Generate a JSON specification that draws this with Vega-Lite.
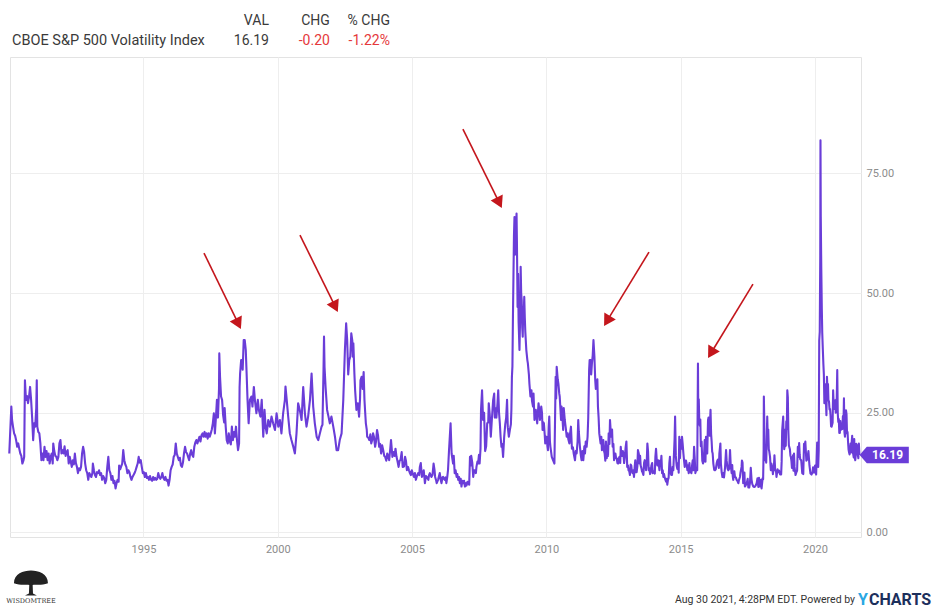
{
"$schema": "https://vega.github.io/schema/vega-lite/v6.json",
"width": 851, "height": 480,
"autosize": {"type": "none"},
"padding": {"left": 10, "top": 57, "right": 78, "bottom": 71},
"background": "white",
"config": {"view": {"stroke": "#e3e3e3", "strokeWidth": 1}, "font": "Roboto"},
"datasets": {
"vix": [
{"t":"1990-01-02","v":16.5},{"t":"1990-01-12","v":20.0},{"t":"1990-01-30","v":26.3},{"t":"1990-02-09","v":23.5},{"t":"1990-02-23","v":22.0},{"t":"1990-03-09","v":20.7},{"t":"1990-03-23","v":20.2},{"t":"1990-04-06","v":19.2},{"t":"1990-04-20","v":17.9},{"t":"1990-05-04","v":18.6},{"t":"1990-05-18","v":17.5},{"t":"1990-06-01","v":16.5},{"t":"1990-06-15","v":16.0},{"t":"1990-06-29","v":14.4},{"t":"1990-07-13","v":15.0},{"t":"1990-07-24","v":15.8},{"t":"1990-08-03","v":31.8},{"t":"1990-08-17","v":27.7},{"t":"1990-08-31","v":28.5},{"t":"1990-09-14","v":27.0},{"t":"1990-09-28","v":28.4},{"t":"1990-10-12","v":30.4},{"t":"1990-10-26","v":27.7},{"t":"1990-11-09","v":24.0},{"t":"1990-11-23","v":19.3},{"t":"1990-12-07","v":22.8},{"t":"1990-12-21","v":22.1},
{"t":"1991-01-04","v":26.0},{"t":"1991-01-11","v":31.8},{"t":"1991-01-18","v":22.1},{"t":"1991-02-01","v":21.0},{"t":"1991-02-15","v":20.7},{"t":"1991-03-01","v":18.6},{"t":"1991-03-15","v":15.1},{"t":"1991-03-29","v":16.5},{"t":"1991-04-12","v":15.1},{"t":"1991-04-26","v":17.9},{"t":"1991-05-10","v":15.8},{"t":"1991-05-24","v":17.0},{"t":"1991-06-07","v":15.1},{"t":"1991-06-21","v":16.5},{"t":"1991-07-05","v":14.4},{"t":"1991-07-19","v":15.8},{"t":"1991-08-02","v":16.5},{"t":"1991-08-16","v":14.4},{"t":"1991-08-23","v":18.6},{"t":"1991-09-06","v":17.0},{"t":"1991-09-20","v":16.0},{"t":"1991-10-04","v":15.8},{"t":"1991-10-18","v":15.1},{"t":"1991-11-01","v":15.8},{"t":"1991-11-15","v":18.6},{"t":"1991-11-29","v":19.3},{"t":"1991-12-13","v":16.5},{"t":"1991-12-27","v":17.2},
{"t":"1992-01-10","v":16.5},{"t":"1992-01-24","v":18.0},{"t":"1992-02-07","v":16.0},{"t":"1992-02-21","v":16.8},{"t":"1992-03-06","v":17.2},{"t":"1992-03-20","v":14.4},{"t":"1992-04-03","v":15.8},{"t":"1992-04-17","v":14.8},{"t":"1992-05-01","v":13.7},{"t":"1992-05-15","v":15.1},{"t":"1992-05-29","v":14.2},{"t":"1992-06-12","v":16.5},{"t":"1992-06-26","v":14.5},{"t":"1992-07-10","v":13.7},{"t":"1992-07-24","v":12.4},{"t":"1992-08-07","v":13.4},{"t":"1992-08-21","v":13.0},{"t":"1992-09-04","v":13.7},{"t":"1992-09-18","v":16.5},{"t":"1992-10-02","v":17.9},{"t":"1992-10-16","v":16.8},{"t":"1992-10-30","v":14.4},{"t":"1992-11-13","v":13.0},{"t":"1992-11-27","v":12.4},{"t":"1992-12-11","v":11.0},{"t":"1992-12-25","v":12.4},
{"t":"1993-01-08","v":12.0},{"t":"1993-01-22","v":11.6},{"t":"1993-02-05","v":12.4},{"t":"1993-02-12","v":14.4},{"t":"1993-02-26","v":13.0},{"t":"1993-03-12","v":12.0},{"t":"1993-03-26","v":11.6},{"t":"1993-04-09","v":12.6},{"t":"1993-04-23","v":12.4},{"t":"1993-05-07","v":13.0},{"t":"1993-05-21","v":12.0},{"t":"1993-06-04","v":12.4},{"t":"1993-06-18","v":11.0},{"t":"1993-07-02","v":11.8},{"t":"1993-07-16","v":11.4},{"t":"1993-07-30","v":10.3},{"t":"1993-08-13","v":11.0},{"t":"1993-08-27","v":13.7},{"t":"1993-09-10","v":15.8},{"t":"1993-09-24","v":13.0},{"t":"1993-10-08","v":12.4},{"t":"1993-10-22","v":11.0},{"t":"1993-11-05","v":11.8},{"t":"1993-11-19","v":10.3},{"t":"1993-12-03","v":10.8},{"t":"1993-12-17","v":9.2},{"t":"1993-12-31","v":10.3},
{"t":"1994-01-14","v":11.0},{"t":"1994-01-28","v":10.6},{"t":"1994-02-04","v":14.0},{"t":"1994-02-18","v":13.2},{"t":"1994-03-04","v":13.8},{"t":"1994-03-18","v":14.4},{"t":"1994-04-01","v":17.2},{"t":"1994-04-15","v":15.1},{"t":"1994-04-29","v":14.2},{"t":"1994-05-13","v":13.7},{"t":"1994-05-27","v":12.4},{"t":"1994-06-10","v":13.0},{"t":"1994-06-24","v":12.6},{"t":"1994-07-08","v":11.6},{"t":"1994-07-22","v":11.0},{"t":"1994-08-05","v":11.6},{"t":"1994-08-19","v":12.0},{"t":"1994-09-02","v":12.4},{"t":"1994-09-16","v":13.0},{"t":"1994-09-30","v":13.7},{"t":"1994-10-14","v":14.4},{"t":"1994-10-28","v":15.8},{"t":"1994-11-11","v":14.6},{"t":"1994-11-25","v":15.1},{"t":"1994-12-09","v":13.7},{"t":"1994-12-23","v":12.4},
{"t":"1995-01-06","v":12.6},{"t":"1995-01-20","v":11.6},{"t":"1995-02-03","v":12.4},{"t":"1995-02-17","v":11.4},{"t":"1995-03-03","v":11.6},{"t":"1995-03-17","v":11.0},{"t":"1995-03-31","v":11.8},{"t":"1995-04-14","v":11.0},{"t":"1995-04-28","v":10.8},{"t":"1995-05-12","v":11.6},{"t":"1995-05-26","v":11.0},{"t":"1995-06-09","v":11.4},{"t":"1995-06-23","v":11.0},{"t":"1995-07-07","v":11.2},{"t":"1995-07-21","v":12.4},{"t":"1995-08-04","v":11.6},{"t":"1995-08-18","v":11.2},{"t":"1995-09-01","v":11.6},{"t":"1995-09-15","v":12.4},{"t":"1995-09-29","v":11.4},{"t":"1995-10-13","v":11.0},{"t":"1995-10-27","v":11.6},{"t":"1995-11-10","v":10.8},{"t":"1995-11-24","v":11.0},{"t":"1995-12-08","v":9.8},{"t":"1995-12-22","v":11.0},
{"t":"1996-01-05","v":13.0},{"t":"1996-01-19","v":13.7},{"t":"1996-02-02","v":14.2},{"t":"1996-02-16","v":15.8},{"t":"1996-03-01","v":16.2},{"t":"1996-03-15","v":18.6},{"t":"1996-03-29","v":16.5},{"t":"1996-04-12","v":15.8},{"t":"1996-04-26","v":15.1},{"t":"1996-05-10","v":15.6},{"t":"1996-05-24","v":14.0},{"t":"1996-06-07","v":13.7},{"t":"1996-06-21","v":14.6},{"t":"1996-07-05","v":16.5},{"t":"1996-07-19","v":17.9},{"t":"1996-08-02","v":16.8},{"t":"1996-08-16","v":16.5},{"t":"1996-08-30","v":15.8},{"t":"1996-09-13","v":15.1},{"t":"1996-09-27","v":16.5},{"t":"1996-10-11","v":17.2},{"t":"1996-10-25","v":16.2},{"t":"1996-11-08","v":15.8},{"t":"1996-11-22","v":17.9},{"t":"1996-12-06","v":18.8},{"t":"1996-12-20","v":19.3},
{"t":"1997-01-03","v":18.6},{"t":"1997-01-17","v":19.3},{"t":"1997-01-31","v":20.0},{"t":"1997-02-14","v":19.0},{"t":"1997-02-28","v":20.3},{"t":"1997-03-14","v":20.7},{"t":"1997-03-28","v":20.0},{"t":"1997-04-11","v":21.0},{"t":"1997-04-25","v":20.0},{"t":"1997-05-09","v":20.7},{"t":"1997-05-23","v":19.6},{"t":"1997-06-06","v":20.7},{"t":"1997-06-20","v":20.0},{"t":"1997-07-04","v":20.7},{"t":"1997-07-18","v":21.5},{"t":"1997-08-01","v":22.8},{"t":"1997-08-15","v":24.9},{"t":"1997-08-29","v":20.7},{"t":"1997-09-12","v":24.0},{"t":"1997-09-26","v":27.7},{"t":"1997-10-10","v":24.0},{"t":"1997-10-24","v":30.0},{"t":"1997-10-28","v":37.4},{"t":"1997-11-07","v":32.5},{"t":"1997-11-21","v":28.4},{"t":"1997-12-05","v":27.7},{"t":"1997-12-19","v":24.5},
{"t":"1998-01-02","v":23.0},{"t":"1998-01-09","v":26.0},{"t":"1998-01-23","v":22.1},{"t":"1998-02-06","v":19.3},{"t":"1998-02-20","v":18.6},{"t":"1998-03-06","v":20.7},{"t":"1998-03-20","v":19.0},{"t":"1998-04-03","v":18.4},{"t":"1998-04-17","v":22.1},{"t":"1998-05-01","v":19.3},{"t":"1998-05-15","v":21.0},{"t":"1998-05-29","v":20.0},{"t":"1998-06-12","v":22.1},{"t":"1998-06-26","v":19.2},{"t":"1998-07-10","v":17.2},{"t":"1998-07-24","v":18.6},{"t":"1998-07-31","v":30.4},{"t":"1998-08-07","v":33.2},{"t":"1998-08-21","v":36.0},{"t":"1998-09-04","v":36.0},{"t":"1998-09-11","v":34.0},{"t":"1998-09-25","v":40.2},{"t":"1998-10-09","v":40.2},{"t":"1998-10-23","v":38.1},{"t":"1998-11-02","v":33.9},{"t":"1998-11-16","v":27.7},{"t":"1998-12-01","v":22.8},{"t":"1998-12-18","v":27.7},
{"t":"1999-01-08","v":28.4},{"t":"1999-01-22","v":26.3},{"t":"1999-02-10","v":30.4},{"t":"1999-02-24","v":27.7},{"t":"1999-03-17","v":24.9},{"t":"1999-04-05","v":27.7},{"t":"1999-04-19","v":25.6},{"t":"1999-05-10","v":24.2},{"t":"1999-05-28","v":27.7},{"t":"1999-06-18","v":20.0},{"t":"1999-07-05","v":25.6},{"t":"1999-07-20","v":22.0},{"t":"1999-08-04","v":20.7},{"t":"1999-08-25","v":23.5},{"t":"1999-09-16","v":22.1},{"t":"1999-10-08","v":24.2},{"t":"1999-10-30","v":22.8},{"t":"1999-11-24","v":21.4},{"t":"1999-12-16","v":24.9},
{"t":"2000-01-08","v":22.1},{"t":"2000-01-30","v":23.5},{"t":"2000-02-20","v":20.7},{"t":"2000-03-14","v":24.9},{"t":"2000-04-07","v":27.7},{"t":"2000-04-15","v":30.5},{"t":"2000-04-30","v":28.0},{"t":"2000-05-22","v":24.2},{"t":"2000-06-13","v":20.7},{"t":"2000-07-05","v":19.3},{"t":"2000-07-30","v":17.9},{"t":"2000-08-21","v":16.5},{"t":"2000-09-12","v":20.7},{"t":"2000-10-04","v":27.0},{"t":"2000-10-26","v":25.6},{"t":"2000-11-20","v":23.5},{"t":"2000-12-12","v":30.4},
{"t":"2001-01-04","v":24.9},{"t":"2001-01-26","v":22.1},{"t":"2001-02-17","v":24.2},{"t":"2001-03-14","v":27.7},{"t":"2001-04-05","v":33.2},{"t":"2001-04-27","v":26.3},{"t":"2001-05-19","v":22.8},{"t":"2001-06-13","v":20.0},{"t":"2001-07-05","v":19.3},{"t":"2001-07-27","v":20.7},{"t":"2001-08-18","v":22.1},{"t":"2001-08-31","v":22.5},{"t":"2001-09-14","v":33.9},{"t":"2001-09-21","v":40.9},{"t":"2001-09-28","v":34.6},{"t":"2001-10-12","v":30.4},{"t":"2001-11-02","v":25.6},{"t":"2001-11-21","v":24.2},{"t":"2001-12-09","v":22.8},{"t":"2001-12-31","v":24.2},
{"t":"2002-01-25","v":22.1},{"t":"2002-02-17","v":20.0},{"t":"2002-03-11","v":17.2},{"t":"2002-04-01","v":17.2},{"t":"2002-04-23","v":19.3},{"t":"2002-05-18","v":20.7},{"t":"2002-06-10","v":27.7},{"t":"2002-07-02","v":38.1},{"t":"2002-07-19","v":43.7},{"t":"2002-08-02","v":40.2},{"t":"2002-08-16","v":33.0},{"t":"2002-08-30","v":36.0},{"t":"2002-09-13","v":36.7},{"t":"2002-09-27","v":41.6},{"t":"2002-10-11","v":40.0},{"t":"2002-10-18","v":36.7},{"t":"2002-10-25","v":39.5},{"t":"2002-11-08","v":33.2},{"t":"2002-11-18","v":29.7},{"t":"2002-12-06","v":25.6},{"t":"2002-12-24","v":27.0},
{"t":"2003-01-11","v":24.2},{"t":"2003-01-24","v":28.0},{"t":"2003-01-30","v":31.8},{"t":"2003-02-14","v":32.5},{"t":"2003-02-28","v":30.0},{"t":"2003-03-07","v":31.8},{"t":"2003-03-14","v":33.5},{"t":"2003-03-25","v":27.7},{"t":"2003-04-04","v":25.0},{"t":"2003-04-13","v":22.8},{"t":"2003-04-25","v":21.5},{"t":"2003-05-01","v":20.0},{"t":"2003-05-16","v":19.8},{"t":"2003-05-30","v":19.3},{"t":"2003-06-13","v":20.5},{"t":"2003-06-25","v":18.6},{"t":"2003-07-11","v":19.5},{"t":"2003-07-20","v":20.7},{"t":"2003-08-01","v":20.0},{"t":"2003-08-17","v":17.9},{"t":"2003-08-29","v":19.0},{"t":"2003-09-12","v":21.4},{"t":"2003-09-26","v":20.2},{"t":"2003-10-11","v":17.9},{"t":"2003-10-24","v":18.5},{"t":"2003-11-06","v":16.5},{"t":"2003-11-21","v":18.2},{"t":"2003-12-05","v":17.2},{"t":"2003-12-19","v":16.0},
{"t":"2004-01-01","v":15.8},{"t":"2004-01-16","v":15.0},{"t":"2004-01-29","v":16.5},{"t":"2004-02-12","v":15.8},{"t":"2004-02-24","v":15.1},{"t":"2004-03-10","v":17.5},{"t":"2004-03-20","v":19.3},{"t":"2004-04-08","v":15.8},{"t":"2004-04-22","v":16.8},{"t":"2004-05-08","v":16.0},{"t":"2004-05-20","v":17.5},{"t":"2004-06-03","v":15.8},{"t":"2004-06-17","v":14.8},{"t":"2004-07-01","v":13.7},{"t":"2004-07-15","v":15.0},{"t":"2004-07-27","v":15.1},{"t":"2004-08-12","v":16.8},{"t":"2004-08-26","v":13.7},{"t":"2004-09-13","v":13.8},{"t":"2004-09-27","v":15.8},{"t":"2004-10-09","v":15.0},{"t":"2004-10-22","v":13.0},{"t":"2004-11-06","v":13.7},{"t":"2004-11-19","v":13.0},{"t":"2004-12-02","v":12.4},{"t":"2004-12-15","v":12.0},{"t":"2004-12-28","v":13.0},
{"t":"2005-01-12","v":12.2},{"t":"2005-01-26","v":11.6},{"t":"2005-02-08","v":12.4},{"t":"2005-02-21","v":11.0},{"t":"2005-03-08","v":11.8},{"t":"2005-03-24","v":12.4},{"t":"2005-04-08","v":12.0},{"t":"2005-04-16","v":13.7},{"t":"2005-04-29","v":14.5},{"t":"2005-05-14","v":11.6},{"t":"2005-05-27","v":12.2},{"t":"2005-06-08","v":13.0},{"t":"2005-06-24","v":10.3},{"t":"2005-07-08","v":11.8},{"t":"2005-07-20","v":11.6},{"t":"2005-08-10","v":11.0},{"t":"2005-08-19","v":12.0},{"t":"2005-08-30","v":12.4},{"t":"2005-09-20","v":11.6},{"t":"2005-10-05","v":12.0},{"t":"2005-10-20","v":14.4},{"t":"2005-11-02","v":13.0},{"t":"2005-11-10","v":11.6},{"t":"2005-11-25","v":10.8},{"t":"2005-12-01","v":10.3},{"t":"2005-12-20","v":11.0},
{"t":"2006-01-12","v":12.4},{"t":"2006-01-25","v":11.0},{"t":"2006-02-05","v":10.3},{"t":"2006-02-17","v":11.5},{"t":"2006-02-27","v":11.6},{"t":"2006-03-10","v":11.2},{"t":"2006-03-20","v":11.0},{"t":"2006-04-01","v":11.5},{"t":"2006-04-12","v":10.3},{"t":"2006-04-24","v":11.6},{"t":"2006-05-04","v":13.0},{"t":"2006-05-18","v":17.2},{"t":"2006-06-08","v":22.8},{"t":"2006-06-22","v":16.5},{"t":"2006-07-12","v":14.4},{"t":"2006-07-21","v":16.0},{"t":"2006-08-03","v":12.4},{"t":"2006-08-15","v":13.0},{"t":"2006-08-29","v":11.6},{"t":"2006-09-08","v":12.2},{"t":"2006-09-20","v":11.0},{"t":"2006-10-01","v":11.6},{"t":"2006-10-12","v":10.3},{"t":"2006-10-24","v":11.2},{"t":"2006-11-03","v":9.6},{"t":"2006-11-15","v":10.8},{"t":"2006-11-24","v":10.3},{"t":"2006-12-08","v":10.8},{"t":"2006-12-20","v":9.6},
{"t":"2007-01-05","v":10.3},{"t":"2007-01-11","v":9.8},{"t":"2007-01-24","v":10.6},{"t":"2007-02-02","v":10.3},{"t":"2007-02-16","v":10.0},{"t":"2007-02-27","v":15.8},{"t":"2007-03-09","v":14.0},{"t":"2007-03-16","v":16.0},{"t":"2007-03-30","v":14.6},{"t":"2007-04-12","v":11.6},{"t":"2007-04-24","v":13.0},{"t":"2007-05-05","v":13.0},{"t":"2007-05-18","v":12.4},{"t":"2007-05-26","v":13.7},{"t":"2007-06-08","v":14.8},{"t":"2007-06-17","v":14.4},{"t":"2007-06-29","v":16.2},{"t":"2007-07-08","v":14.4},{"t":"2007-07-20","v":17.5},{"t":"2007-07-27","v":25.6},{"t":"2007-08-10","v":29.7},{"t":"2007-08-24","v":23.5},{"t":"2007-09-07","v":25.0},{"t":"2007-09-21","v":17.0},{"t":"2007-10-05","v":18.0},{"t":"2007-10-19","v":22.8},{"t":"2007-11-02","v":23.0},{"t":"2007-11-09","v":27.0},{"t":"2007-11-23","v":24.5},{"t":"2007-12-07","v":20.0},{"t":"2007-12-21","v":23.5},
{"t":"2008-01-08","v":27.7},{"t":"2008-01-22","v":29.0},{"t":"2008-01-30","v":24.0},{"t":"2008-02-08","v":26.0},{"t":"2008-02-21","v":24.0},{"t":"2008-03-07","v":27.0},{"t":"2008-03-17","v":29.7},{"t":"2008-03-28","v":25.0},{"t":"2008-04-08","v":22.8},{"t":"2008-04-18","v":20.0},{"t":"2008-04-30","v":17.9},{"t":"2008-05-09","v":18.5},{"t":"2008-05-22","v":15.8},{"t":"2008-06-06","v":20.0},{"t":"2008-06-20","v":22.5},{"t":"2008-07-03","v":24.0},{"t":"2008-07-15","v":27.7},{"t":"2008-07-25","v":22.0},{"t":"2008-08-08","v":20.0},{"t":"2008-08-22","v":21.4},{"t":"2008-09-05","v":22.6},{"t":"2008-09-12","v":25.7},{"t":"2008-09-19","v":32.5},{"t":"2008-09-26","v":34.7},{"t":"2008-10-03","v":45.0},{"t":"2008-10-10","v":53.4},{"t":"2008-10-17","v":62.0},{"t":"2008-10-24","v":65.9},{"t":"2008-10-31","v":58.0},{"t":"2008-11-07","v":60.0},{"t":"2008-11-14","v":63.5},{"t":"2008-11-21","v":66.6},{"t":"2008-11-26","v":61.0},{"t":"2008-12-05","v":47.1},{"t":"2008-12-12","v":54.0},{"t":"2008-12-19","v":44.0},{"t":"2008-12-31","v":38.1},
{"t":"2009-01-09","v":45.0},{"t":"2009-01-16","v":55.5},{"t":"2009-01-23","v":50.0},{"t":"2009-01-30","v":48.5},{"t":"2009-02-06","v":43.0},{"t":"2009-02-13","v":40.9},{"t":"2009-02-20","v":47.0},{"t":"2009-02-27","v":46.0},{"t":"2009-03-06","v":49.2},{"t":"2009-03-13","v":45.0},{"t":"2009-03-20","v":42.0},{"t":"2009-04-03","v":38.1},{"t":"2009-04-17","v":36.0},{"t":"2009-04-24","v":35.3},{"t":"2009-05-08","v":33.0},{"t":"2009-05-15","v":31.1},{"t":"2009-05-29","v":28.4},{"t":"2009-06-12","v":29.7},{"t":"2009-06-19","v":27.5},{"t":"2009-07-03","v":26.3},{"t":"2009-07-10","v":29.0},{"t":"2009-07-23","v":23.5},{"t":"2009-08-10","v":25.6},{"t":"2009-08-20","v":24.0},{"t":"2009-08-29","v":22.8},{"t":"2009-09-16","v":27.0},{"t":"2009-09-30","v":25.0},{"t":"2009-10-05","v":23.5},{"t":"2009-10-23","v":26.3},{"t":"2009-11-02","v":25.0},{"t":"2009-11-10","v":21.4},{"t":"2009-11-20","v":23.0},{"t":"2009-11-28","v":22.8},{"t":"2009-12-09","v":20.5},{"t":"2009-12-16","v":18.6},{"t":"2009-12-25","v":20.0},
{"t":"2010-01-04","v":20.0},{"t":"2010-01-15","v":18.0},{"t":"2010-01-22","v":17.2},{"t":"2010-02-01","v":22.0},{"t":"2010-02-09","v":24.2},{"t":"2010-02-18","v":19.0},{"t":"2010-02-25","v":17.9},{"t":"2010-03-15","v":15.8},{"t":"2010-04-01","v":15.1},{"t":"2010-04-20","v":14.4},{"t":"2010-05-07","v":32.5},{"t":"2010-05-14","v":28.0},{"t":"2010-05-21","v":34.6},{"t":"2010-06-04","v":32.0},{"t":"2010-06-13","v":31.1},{"t":"2010-06-25","v":29.0},{"t":"2010-07-01","v":28.4},{"t":"2010-07-10","v":26.0},{"t":"2010-07-19","v":23.5},{"t":"2010-07-26","v":26.3},{"t":"2010-08-07","v":24.0},{"t":"2010-08-17","v":21.4},{"t":"2010-08-25","v":26.0},{"t":"2010-09-08","v":23.5},{"t":"2010-09-20","v":22.0},{"t":"2010-10-04","v":20.0},{"t":"2010-10-18","v":20.7},{"t":"2010-10-26","v":19.5},{"t":"2010-11-10","v":18.6},{"t":"2010-11-17","v":20.5},{"t":"2010-12-01","v":22.1},{"t":"2010-12-14","v":17.5},{"t":"2010-12-28","v":17.8},
{"t":"2011-01-07","v":16.5},{"t":"2011-01-25","v":15.1},{"t":"2011-02-04","v":17.0},{"t":"2011-02-16","v":16.5},{"t":"2011-03-01","v":19.0},{"t":"2011-03-10","v":23.5},{"t":"2011-03-18","v":21.0},{"t":"2011-04-02","v":17.9},{"t":"2011-04-15","v":16.0},{"t":"2011-04-24","v":15.1},{"t":"2011-05-06","v":17.0},{"t":"2011-05-18","v":15.1},{"t":"2011-06-01","v":18.0},{"t":"2011-06-10","v":16.5},{"t":"2011-06-20","v":19.0},{"t":"2011-07-02","v":17.9},{"t":"2011-07-15","v":20.0},{"t":"2011-07-24","v":24.0},{"t":"2011-08-05","v":33.9},{"t":"2011-08-12","v":36.0},{"t":"2011-08-25","v":36.0},{"t":"2011-09-02","v":33.0},{"t":"2011-09-12","v":35.3},{"t":"2011-09-23","v":37.0},{"t":"2011-10-03","v":40.2},{"t":"2011-10-16","v":36.7},{"t":"2011-10-27","v":31.8},{"t":"2011-11-04","v":30.0},{"t":"2011-11-14","v":30.4},{"t":"2011-11-25","v":32.0},{"t":"2011-12-03","v":26.3},{"t":"2011-12-12","v":24.0},{"t":"2011-12-21","v":20.7},
{"t":"2012-01-08","v":18.6},{"t":"2012-01-18","v":20.0},{"t":"2012-01-26","v":17.2},{"t":"2012-02-06","v":18.5},{"t":"2012-02-14","v":19.3},{"t":"2012-02-24","v":17.0},{"t":"2012-03-03","v":16.5},{"t":"2012-03-12","v":15.0},{"t":"2012-03-21","v":19.0},{"t":"2012-04-01","v":15.5},{"t":"2012-04-08","v":17.9},{"t":"2012-04-18","v":16.0},{"t":"2012-04-27","v":20.7},{"t":"2012-05-07","v":18.5},{"t":"2012-05-15","v":23.5},{"t":"2012-05-25","v":21.0},{"t":"2012-06-02","v":20.0},{"t":"2012-06-12","v":21.5},{"t":"2012-06-20","v":17.9},{"t":"2012-06-30","v":18.5},{"t":"2012-07-09","v":15.1},{"t":"2012-07-18","v":16.5},{"t":"2012-07-27","v":16.5},{"t":"2012-08-06","v":15.5},{"t":"2012-08-14","v":15.5},{"t":"2012-08-24","v":14.5},{"t":"2012-09-01","v":14.4},{"t":"2012-09-12","v":15.5},{"t":"2012-09-20","v":15.8},{"t":"2012-10-01","v":14.5},{"t":"2012-10-08","v":17.9},{"t":"2012-10-18","v":16.0},{"t":"2012-10-26","v":16.0},{"t":"2012-11-05","v":17.0},{"t":"2012-11-13","v":16.5},{"t":"2012-11-23","v":14.5},{"t":"2012-12-01","v":15.5},{"t":"2012-12-14","v":17.9},{"t":"2012-12-24","v":19.0},
{"t":"2013-01-04","v":13.7},{"t":"2013-01-14","v":14.0},{"t":"2013-01-22","v":13.0},{"t":"2013-02-01","v":12.8},{"t":"2013-02-10","v":12.0},{"t":"2013-02-20","v":14.2},{"t":"2013-02-28","v":14.0},{"t":"2013-03-08","v":12.8},{"t":"2013-03-18","v":12.4},{"t":"2013-03-28","v":13.0},{"t":"2013-04-06","v":11.6},{"t":"2013-04-16","v":13.8},{"t":"2013-04-24","v":15.1},{"t":"2013-05-03","v":12.6},{"t":"2013-05-12","v":12.6},{"t":"2013-05-22","v":13.8},{"t":"2013-05-30","v":17.2},{"t":"2013-06-10","v":16.5},{"t":"2013-06-18","v":14.4},{"t":"2013-06-28","v":16.0},{"t":"2013-07-06","v":14.0},{"t":"2013-07-15","v":13.5},{"t":"2013-07-24","v":12.8},{"t":"2013-08-02","v":12.5},{"t":"2013-08-12","v":12.0},{"t":"2013-08-21","v":14.5},{"t":"2013-08-30","v":15.1},{"t":"2013-09-08","v":14.5},{"t":"2013-09-17","v":13.0},{"t":"2013-09-27","v":15.0},{"t":"2013-10-05","v":18.6},{"t":"2013-10-14","v":17.0},{"t":"2013-10-23","v":13.0},{"t":"2013-11-01","v":13.4},{"t":"2013-11-11","v":12.2},{"t":"2013-11-20","v":12.8},{"t":"2013-11-29","v":14.0},{"t":"2013-12-09","v":14.5},{"t":"2013-12-17","v":12.4},{"t":"2013-12-27","v":12.6},
{"t":"2014-01-04","v":12.8},{"t":"2014-01-14","v":12.3},{"t":"2014-01-22","v":15.8},{"t":"2014-01-31","v":17.5},{"t":"2014-02-10","v":15.0},{"t":"2014-02-18","v":14.0},{"t":"2014-02-28","v":15.1},{"t":"2014-03-09","v":14.2},{"t":"2014-03-18","v":13.0},{"t":"2014-03-28","v":15.0},{"t":"2014-04-05","v":14.0},{"t":"2014-04-14","v":16.0},{"t":"2014-04-23","v":12.4},{"t":"2014-05-02","v":13.0},{"t":"2014-05-11","v":11.6},{"t":"2014-05-20","v":12.2},{"t":"2014-05-30","v":11.4},{"t":"2014-06-08","v":11.0},{"t":"2014-06-17","v":10.6},{"t":"2014-06-26","v":11.2},{"t":"2014-07-03","v":10.0},{"t":"2014-07-12","v":11.0},{"t":"2014-07-21","v":11.4},{"t":"2014-07-31","v":14.5},{"t":"2014-08-08","v":15.8},{"t":"2014-08-17","v":12.5},{"t":"2014-08-26","v":12.0},{"t":"2014-09-05","v":12.0},{"t":"2014-09-14","v":13.7},{"t":"2014-09-23","v":13.0},{"t":"2014-10-02","v":16.5},{"t":"2014-10-10","v":19.5},{"t":"2014-10-17","v":24.2},{"t":"2014-10-27","v":16.0},{"t":"2014-11-07","v":14.0},{"t":"2014-11-16","v":13.3},{"t":"2014-11-25","v":14.5},{"t":"2014-12-05","v":12.5},{"t":"2014-12-13","v":20.0},{"t":"2014-12-22","v":15.5},
{"t":"2015-01-01","v":19.3},{"t":"2015-01-10","v":17.5},{"t":"2015-01-19","v":20.0},{"t":"2015-01-28","v":18.5},{"t":"2015-02-07","v":16.5},{"t":"2015-02-16","v":15.0},{"t":"2015-02-25","v":13.7},{"t":"2015-03-06","v":15.0},{"t":"2015-03-15","v":15.0},{"t":"2015-03-24","v":14.2},{"t":"2015-04-02","v":13.0},{"t":"2015-04-11","v":14.0},{"t":"2015-04-20","v":12.4},{"t":"2015-04-30","v":14.5},{"t":"2015-05-08","v":12.8},{"t":"2015-05-18","v":12.6},{"t":"2015-05-27","v":12.4},{"t":"2015-06-05","v":14.0},{"t":"2015-06-14","v":15.1},{"t":"2015-06-23","v":13.0},{"t":"2015-07-02","v":17.9},{"t":"2015-07-11","v":15.5},{"t":"2015-07-20","v":12.4},{"t":"2015-07-29","v":13.0},{"t":"2015-08-06","v":13.0},{"t":"2015-08-14","v":13.0},{"t":"2015-08-24","v":35.3},{"t":"2015-08-28","v":26.0},{"t":"2015-09-04","v":27.8},{"t":"2015-09-11","v":23.2},{"t":"2015-09-18","v":22.3},{"t":"2015-09-25","v":23.6},{"t":"2015-10-02","v":18.0},{"t":"2015-10-12","v":19.0},{"t":"2015-10-22","v":15.0},{"t":"2015-11-01","v":14.4},{"t":"2015-11-10","v":15.0},{"t":"2015-11-17","v":17.0},{"t":"2015-11-24","v":19.3},{"t":"2015-12-04","v":14.8},{"t":"2015-12-11","v":20.0},{"t":"2015-12-18","v":18.0},{"t":"2015-12-28","v":16.5},
{"t":"2016-01-08","v":23.5},{"t":"2016-01-15","v":24.0},{"t":"2016-01-22","v":22.3},{"t":"2016-01-29","v":20.2},{"t":"2016-02-05","v":23.4},{"t":"2016-02-11","v":25.6},{"t":"2016-02-19","v":20.5},{"t":"2016-02-26","v":19.0},{"t":"2016-03-04","v":16.9},{"t":"2016-03-11","v":16.5},{"t":"2016-03-20","v":14.4},{"t":"2016-04-01","v":13.1},{"t":"2016-04-11","v":13.0},{"t":"2016-04-22","v":13.2},{"t":"2016-05-04","v":14.4},{"t":"2016-05-13","v":15.0},{"t":"2016-05-20","v":15.2},{"t":"2016-06-03","v":13.5},{"t":"2016-06-10","v":16.5},{"t":"2016-06-24","v":18.6},{"t":"2016-07-01","v":14.4},{"t":"2016-07-12","v":12.5},{"t":"2016-07-22","v":11.6},{"t":"2016-08-03","v":12.4},{"t":"2016-08-12","v":11.5},{"t":"2016-08-26","v":13.5},{"t":"2016-09-09","v":17.2},{"t":"2016-09-17","v":15.0},{"t":"2016-09-30","v":13.3},{"t":"2016-10-10","v":13.0},{"t":"2016-10-21","v":13.3},{"t":"2016-11-02","v":17.2},{"t":"2016-11-11","v":14.2},{"t":"2016-11-24","v":12.4},{"t":"2016-12-02","v":14.1},{"t":"2016-12-09","v":11.8},{"t":"2016-12-16","v":11.0},{"t":"2016-12-30","v":12.8},
{"t":"2017-01-08","v":11.6},{"t":"2017-01-20","v":11.5},{"t":"2017-01-31","v":11.0},{"t":"2017-02-10","v":10.8},{"t":"2017-02-23","v":10.3},{"t":"2017-03-03","v":10.9},{"t":"2017-03-17","v":11.6},{"t":"2017-03-24","v":12.5},{"t":"2017-04-08","v":13.7},{"t":"2017-04-13","v":15.0},{"t":"2017-04-21","v":14.6},{"t":"2017-04-30","v":10.3},{"t":"2017-05-12","v":10.4},{"t":"2017-05-17","v":12.5},{"t":"2017-05-23","v":9.6},{"t":"2017-06-02","v":9.8},{"t":"2017-06-17","v":10.3},{"t":"2017-06-30","v":11.2},{"t":"2017-07-09","v":9.4},{"t":"2017-07-21","v":9.4},{"t":"2017-07-31","v":10.3},{"t":"2017-08-11","v":13.5},{"t":"2017-08-22","v":11.0},{"t":"2017-09-01","v":10.1},{"t":"2017-09-15","v":9.6},{"t":"2017-09-29","v":9.5},{"t":"2017-10-08","v":9.6},{"t":"2017-10-20","v":9.9},{"t":"2017-10-30","v":10.3},{"t":"2017-11-10","v":11.3},{"t":"2017-11-22","v":9.5},{"t":"2017-12-01","v":11.4},{"t":"2017-12-14","v":9.6},{"t":"2017-12-29","v":11.0},
{"t":"2018-01-05","v":9.2},{"t":"2018-01-19","v":11.3},{"t":"2018-01-26","v":11.1},{"t":"2018-02-02","v":17.3},{"t":"2018-02-05","v":28.4},{"t":"2018-02-09","v":25.0},{"t":"2018-02-16","v":15.1},{"t":"2018-02-23","v":16.5},{"t":"2018-03-09","v":14.6},{"t":"2018-03-23","v":24.2},{"t":"2018-03-30","v":19.9},{"t":"2018-04-06","v":21.5},{"t":"2018-04-13","v":17.4},{"t":"2018-04-20","v":16.9},{"t":"2018-04-30","v":15.8},{"t":"2018-05-11","v":13.0},{"t":"2018-05-18","v":14.4},{"t":"2018-06-01","v":13.5},{"t":"2018-06-08","v":12.2},{"t":"2018-06-22","v":13.8},{"t":"2018-06-29","v":16.1},{"t":"2018-07-09","v":13.0},{"t":"2018-07-20","v":12.9},{"t":"2018-07-27","v":11.6},{"t":"2018-08-10","v":13.2},{"t":"2018-08-18","v":12.6},{"t":"2018-08-31","v":12.9},{"t":"2018-09-14","v":12.1},{"t":"2018-09-28","v":12.1},{"t":"2018-10-05","v":14.8},{"t":"2018-10-12","v":21.3},{"t":"2018-10-26","v":24.2},{"t":"2018-11-02","v":19.5},{"t":"2018-11-09","v":17.4},{"t":"2018-11-16","v":18.1},{"t":"2018-11-23","v":21.5},{"t":"2018-11-30","v":18.1},{"t":"2018-12-07","v":23.2},{"t":"2018-12-14","v":21.6},{"t":"2018-12-21","v":29.7},{"t":"2018-12-28","v":28.3},
{"t":"2019-01-04","v":21.4},{"t":"2019-01-11","v":18.2},{"t":"2019-01-18","v":17.8},{"t":"2019-01-25","v":17.4},{"t":"2019-02-01","v":16.1},{"t":"2019-02-08","v":15.7},{"t":"2019-02-15","v":14.9},{"t":"2019-02-22","v":13.5},{"t":"2019-03-01","v":14.6},{"t":"2019-03-08","v":16.1},{"t":"2019-03-15","v":12.9},{"t":"2019-03-22","v":16.5},{"t":"2019-03-29","v":13.7},{"t":"2019-04-12","v":12.0},{"t":"2019-04-26","v":12.7},{"t":"2019-05-03","v":12.9},{"t":"2019-05-13","v":17.9},{"t":"2019-05-24","v":15.8},{"t":"2019-05-31","v":18.7},{"t":"2019-06-07","v":16.3},{"t":"2019-06-14","v":15.3},{"t":"2019-06-28","v":15.1},{"t":"2019-07-12","v":12.4},{"t":"2019-07-26","v":12.2},{"t":"2019-08-05","v":18.5},{"t":"2019-08-16","v":18.0},{"t":"2019-08-23","v":19.0},{"t":"2019-09-06","v":15.0},{"t":"2019-09-20","v":15.3},{"t":"2019-10-04","v":17.0},{"t":"2019-10-18","v":14.0},{"t":"2019-11-01","v":12.3},{"t":"2019-11-15","v":12.1},{"t":"2019-11-29","v":12.6},{"t":"2019-12-06","v":13.6},{"t":"2019-12-20","v":12.5},
{"t":"2020-01-03","v":14.0},{"t":"2020-01-17","v":12.1},{"t":"2020-01-31","v":18.8},{"t":"2020-02-14","v":13.7},{"t":"2020-02-21","v":17.1},{"t":"2020-02-28","v":40.1},{"t":"2020-03-06","v":41.9},{"t":"2020-03-13","v":57.8},{"t":"2020-03-16","v":81.9},{"t":"2020-03-20","v":66.0},{"t":"2020-03-27","v":55.0},{"t":"2020-04-03","v":46.8},{"t":"2020-04-09","v":41.7},{"t":"2020-04-17","v":38.2},{"t":"2020-04-24","v":35.3},{"t":"2020-05-01","v":33.0},{"t":"2020-05-08","v":27.0},{"t":"2020-05-15","v":31.0},{"t":"2020-05-22","v":28.2},{"t":"2020-05-29","v":27.5},{"t":"2020-06-05","v":24.5},{"t":"2020-06-12","v":32.5},{"t":"2020-06-19","v":30.0},{"t":"2020-06-26","v":31.0},{"t":"2020-07-02","v":27.7},{"t":"2020-07-10","v":27.3},{"t":"2020-07-17","v":25.7},{"t":"2020-07-24","v":25.8},{"t":"2020-07-31","v":24.5},{"t":"2020-08-07","v":22.2},{"t":"2020-08-14","v":22.1},{"t":"2020-08-21","v":22.5},{"t":"2020-08-28","v":22.9},{"t":"2020-09-04","v":29.7},{"t":"2020-09-11","v":26.9},{"t":"2020-09-18","v":25.8},{"t":"2020-09-25","v":26.4},{"t":"2020-10-02","v":27.6},{"t":"2020-10-09","v":25.0},{"t":"2020-10-16","v":27.4},{"t":"2020-10-23","v":28.0},{"t":"2020-10-30","v":33.9},{"t":"2020-11-06","v":24.9},{"t":"2020-11-13","v":23.1},{"t":"2020-11-20","v":23.7},{"t":"2020-11-27","v":20.8},{"t":"2020-12-04","v":20.8},{"t":"2020-12-11","v":23.3},{"t":"2020-12-18","v":21.6},{"t":"2020-12-25","v":21.5},
{"t":"2021-01-01","v":22.8},{"t":"2021-01-08","v":21.6},{"t":"2021-01-15","v":24.3},{"t":"2021-01-22","v":21.9},{"t":"2021-01-29","v":28.0},{"t":"2021-02-05","v":20.9},{"t":"2021-02-12","v":20.0},{"t":"2021-02-19","v":22.1},{"t":"2021-02-26","v":25.5},{"t":"2021-03-05","v":24.7},{"t":"2021-03-12","v":20.7},{"t":"2021-03-19","v":21.0},{"t":"2021-03-26","v":18.9},{"t":"2021-04-02","v":17.3},{"t":"2021-04-09","v":16.7},{"t":"2021-04-16","v":16.3},{"t":"2021-04-23","v":17.3},{"t":"2021-04-30","v":18.6},{"t":"2021-05-07","v":16.7},{"t":"2021-05-14","v":18.8},{"t":"2021-05-21","v":20.2},{"t":"2021-05-28","v":16.8},{"t":"2021-06-04","v":16.4},{"t":"2021-06-11","v":15.7},{"t":"2021-06-18","v":19.5},{"t":"2021-06-25","v":15.6},{"t":"2021-07-02","v":15.1},{"t":"2021-07-09","v":16.2},{"t":"2021-07-16","v":18.5},{"t":"2021-07-23","v":17.2},{"t":"2021-07-30","v":18.2},{"t":"2021-08-06","v":16.2},{"t":"2021-08-13","v":15.5},{"t":"2021-08-20","v":18.6},{"t":"2021-08-27","v":16.4},{"t":"2021-08-30","v":16.19}
],
"arrows": [
{"t1":"1997-04-03","v1":58.35,"t2":"1998-07-14","v2":43.61,"dir":"right"},
{"t1":"2000-10-29","v1":62.11,"t2":"2002-02-21","v2":47.16,"dir":"right"},
{"t1":"2006-11-23","v1":84.24,"t2":"2008-03-31","v2":68.87,"dir":"right"},
{"t1":"2013-10-27","v1":58.56,"t2":"2012-04-05","v2":44.18,"dir":"left"},
{"t1":"2017-09-10","v1":51.88,"t2":"2016-02-18","v2":37.49,"dir":"left"}
],
"tag": [{"t":"2021-08-30","v":16.19,"label":"16.19"}],
"hdr": [
{"label":"VAL","t":"1999-09-03","v":106.8,"role":"head"},
{"label":"CHG","t":"2001-12-10","v":106.8,"role":"head"},
{"label":"% CHG","t":"2004-03-06","v":106.8,"role":"head"},
{"label":"16.19","t":"1999-09-03","v":102.6,"role":"val"},
{"label":"-0.20","t":"2001-12-10","v":102.6,"role":"neg"},
{"label":"-1.22%","t":"2004-03-06","v":102.6,"role":"neg"},
{"label":"CBOE S&P 500 Volatility Index","t":"1990-02-08","v":102.6,"role":"name"}
],
"foot": [
{"label":"Aug 30 2021, 4:28PM EDT. Powered by","t":"2021-06-28","v":-14.1,"role":"stamp"},
{"label":"Y","t":"2021-08-08","v":-14.1,"role":"y"},
{"label":"CHARTS","t":"2022-01-04","v":-14.1,"role":"charts"},
{"label":"WISDOMTREE","t":"1990-10-24","v":-14.4,"role":"wt"}
],
"logo": [{"t":"1990-10-24","v":-10.6}]
},
"layer": [
{"data":{"name":"vix"},
 "mark":{"type":"line","color":"#6a3dd8","strokeWidth":2.1,"strokeJoin":"round"},
 "encoding":{
  "x":{"field":"t","type":"temporal",
   "scale":{"type":"utc","domain":[{"year":1990,"month":1,"date":12,"utc":true},{"year":2021,"month":9,"date":18,"utc":true}]},
   "axis":{"title":null,"orient":"bottom","format":"%Y","tickCount":{"interval":"year","step":5},"grid":true,"gridColor":"#eeeeee","gridWidth":1,"domain":false,"ticks":false,"labelColor":"#8c8c8c","labelFontSize":11,"labelFont":"Roboto","labelPadding":6}},
  "y":{"field":"v","type":"quantitative",
   "scale":{"domain":[-0.94,99.3],"zero":false,"nice":false},
   "axis":{"title":null,"orient":"right","values":[0,25,50,75],"format":".2f","grid":true,"gridColor":"#eeeeee","gridWidth":1,"domain":false,"ticks":false,"labelColor":"#8c8c8c","labelFontSize":11,"labelFont":"Roboto","labelPadding":5}}
 }},
{"data":{"name":"arrows"},
 "mark":{"type":"rule","color":"#c4161c","strokeWidth":1.6},
 "encoding":{"x":{"field":"t1","type":"temporal"},"y":{"field":"v1","type":"quantitative"},"x2":{"field":"t2"},"y2":{"field":"v2"}}},
{"data":{"name":"arrows"},
 "transform":[{"filter":"datum.dir == 'right'"}],
 "mark":{"type":"point","shape":"triangle-up","angle":154,"size":180,"filled":true,"color":"#c4161c","opacity":1},
 "encoding":{"x":{"field":"t2","type":"temporal"},"y":{"field":"v2","type":"quantitative"}}},
{"data":{"name":"arrows"},
 "transform":[{"filter":"datum.dir == 'left'"}],
 "mark":{"type":"point","shape":"triangle-up","angle":211,"size":180,"filled":true,"color":"#c4161c","opacity":1},
 "encoding":{"x":{"field":"t2","type":"temporal"},"y":{"field":"v2","type":"quantitative"}}},
{"data":{"name":"tag"},
 "mark":{"type":"point","shape":"M0,0L0.3,-0.34L2.05,-0.34L2.05,0.34L0.3,0.34Z","size":2304,"filled":true,"color":"#6a3dd8","opacity":1},
 "encoding":{"x":{"field":"t","type":"temporal"},"y":{"field":"v","type":"quantitative"}}},
{"data":{"name":"tag"},
 "mark":{"type":"text","color":"white","fontWeight":"bold","fontSize":12,"font":"Roboto","align":"center","baseline":"middle","dx":28},
 "encoding":{"x":{"field":"t","type":"temporal"},"y":{"field":"v","type":"quantitative"},"text":{"field":"label"}}},
{"data":{"name":"hdr"},
 "transform":[{"filter":"datum.role == 'head' || datum.role == 'val'"}],
 "mark":{"type":"text","color":"#3a3a3a","fontSize":14,"font":"Roboto","align":"right","baseline":"middle"},
 "encoding":{"x":{"field":"t","type":"temporal"},"y":{"field":"v","type":"quantitative"},"text":{"field":"label"}}},
{"data":{"name":"hdr"},
 "transform":[{"filter":"datum.role == 'neg'"}],
 "mark":{"type":"text","color":"#e5383b","fontSize":14,"font":"Roboto","align":"right","baseline":"middle"},
 "encoding":{"x":{"field":"t","type":"temporal"},"y":{"field":"v","type":"quantitative"},"text":{"field":"label"}}},
{"data":{"name":"hdr"},
 "transform":[{"filter":"datum.role == 'name'"}],
 "mark":{"type":"text","color":"#3a3a3a","fontSize":14.5,"font":"Roboto","align":"left","baseline":"middle"},
 "encoding":{"x":{"field":"t","type":"temporal"},"y":{"field":"v","type":"quantitative"},"text":{"field":"label"}}},
{"data":{"name":"foot"},
 "transform":[{"filter":"datum.role == 'stamp'"}],
 "mark":{"type":"text","color":"#333333","fontSize":10.5,"font":"Roboto","align":"right","baseline":"middle"},
 "encoding":{"x":{"field":"t","type":"temporal"},"y":{"field":"v","type":"quantitative"},"text":{"field":"label"}}},
{"data":{"name":"foot"},
 "transform":[{"filter":"datum.role == 'y'"}],
 "mark":{"type":"text","color":"#2aa7e3","fontSize":16,"fontWeight":"bold","font":"Roboto","align":"left","baseline":"middle"},
 "encoding":{"x":{"field":"t","type":"temporal"},"y":{"field":"v","type":"quantitative"},"text":{"field":"label"}}},
{"data":{"name":"foot"},
 "transform":[{"filter":"datum.role == 'charts'"}],
 "mark":{"type":"text","color":"#1c2f5c","fontSize":16,"fontWeight":"bold","font":"Roboto","align":"left","baseline":"middle"},
 "encoding":{"x":{"field":"t","type":"temporal"},"y":{"field":"v","type":"quantitative"},"text":{"field":"label"}}},
{"data":{"name":"foot"},
 "transform":[{"filter":"datum.role == 'wt'"}],
 "mark":{"type":"text","color":"#333333","fontSize":6.5,"font":"DejaVu Serif","align":"center","baseline":"middle"},
 "encoding":{"x":{"field":"t","type":"temporal"},"y":{"field":"v","type":"quantitative"},"text":{"field":"label"}}},
{"data":{"name":"logo"},
 "mark":{"type":"point","shape":"M-1,0C-1,-0.55,-0.45,-0.75,0,-0.75C0.45,-0.75,1,-0.55,1,0C0.6,0.15,0.25,0.05,0.1,0.1L0.12,0.6L0.35,0.72L-0.35,0.72L-0.12,0.6L-0.1,0.1C-0.25,0.05,-0.6,0.15,-1,0Z","size":1156,"filled":true,"color":"#222222","opacity":1},
 "encoding":{"x":{"field":"t","type":"temporal"},"y":{"field":"v","type":"quantitative"}}}
]
}
